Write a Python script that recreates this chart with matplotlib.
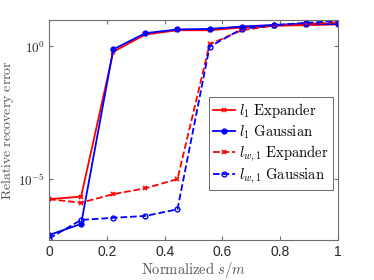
import matplotlib
matplotlib.use("Agg")
import matplotlib.pyplot as plt
import numpy as np

# normalized sparsity s/m
s_over_m = np.arange(10) / 9

# log10 of relative recovery error
l1_expander = [-5.75, -5.65, -0.20, 0.45, 0.61, 0.61, 0.71, 0.78, 0.80, 0.83]
l1_gaussian = [-7.10, -6.68, -0.11, 0.50, 0.64, 0.66, 0.75, 0.81, 0.86, 0.84]
lw1_expander = [-5.75, -5.88, -5.56, -5.34, -4.99, 0.08, 0.61, 0.78, 0.84, 0.91]
lw1_gaussian = [-7.23, -6.53, -6.45, -6.38, -6.13, -0.01, 0.66, 0.80, 0.89, 0.96]

labels = [r"$l_1\ \mathrm{Expander}$", r"$l_1\ \mathrm{Gaussian}$",
          r"$l_{w,1}\ \mathrm{Expander}$", r"$l_{w,1}\ \mathrm{Gaussian}$"]

plt.rcParams["mathtext.fontset"] = "cm"

fig = plt.figure(figsize=(3.74, 2.80), dpi=100)
ax = fig.add_axes([0.131, 0.143, 0.773, 0.786])

ax.plot(s_over_m, 10 ** np.array(l1_expander), "r-", marker="x",
        markersize=3, markeredgewidth=1.2, linewidth=1.3, label=labels[0])
ax.plot(s_over_m, 10 ** np.array(l1_gaussian), "b-", marker="o",
        markersize=3.5, linewidth=1.3, label=labels[1])
ax.plot(s_over_m, 10 ** np.array(lw1_expander), "r--", marker="x",
        markersize=3, markeredgewidth=1.2, linewidth=1.3, label=labels[2])
ax.plot(s_over_m, 10 ** np.array(lw1_gaussian), "b--", marker="o",
        markersize=3.5, markerfacecolor="none", linewidth=1.3,
        label=labels[3])

ax.set_yscale("log")
ax.set_xlim(0, 1)
ax.set_ylim(5.2e-8, 10)
ax.set_yticks([1e-5, 1e0])
ax.set_yticklabels([r"$10^{-5}$", r"$10^{0}$"])
ax.minorticks_off()
ax.set_xticks([0, 0.2, 0.4, 0.6, 0.8, 1])
ax.set_xticklabels(["0", "0.2", "0.4", "0.6", "0.8", "1"])

for side in ax.spines.values():
    side.set_color("#6e6e6e")
    side.set_linewidth(0.8)
ax.tick_params(direction="in", top=True, right=True, length=3,
               color="#6e6e6e", labelcolor="#262626", labelsize=10)
ax.tick_params(axis="y", labelsize=9.5, pad=2.5)
for t in ax.get_xticklabels() + ax.get_yticklabels():
    t.set_family("Liberation Sans")

ax.set_xlabel(r"$\mathrm{Normalized}\ s/m$", fontsize=10.5, labelpad=1,
              color="#555555")
ax.set_ylabel(r"$\mathrm{Relative\ recovery\ error}$", fontsize=10,
              labelpad=0, color="#555555")
ax.yaxis.set_label_coords(-0.115, 0.5)

leg = ax.legend(loc="upper right", bbox_to_anchor=(0.983, 0.65),
                fontsize=10.5, frameon=True, fancybox=False,
                handlelength=1.5, handletextpad=0.3, borderpad=0.3,
                labelspacing=0.2, borderaxespad=0)
leg.get_frame().set_edgecolor("#262626")
leg.get_frame().set_linewidth(0.6)

fig.savefig("out.png", dpi=100)
